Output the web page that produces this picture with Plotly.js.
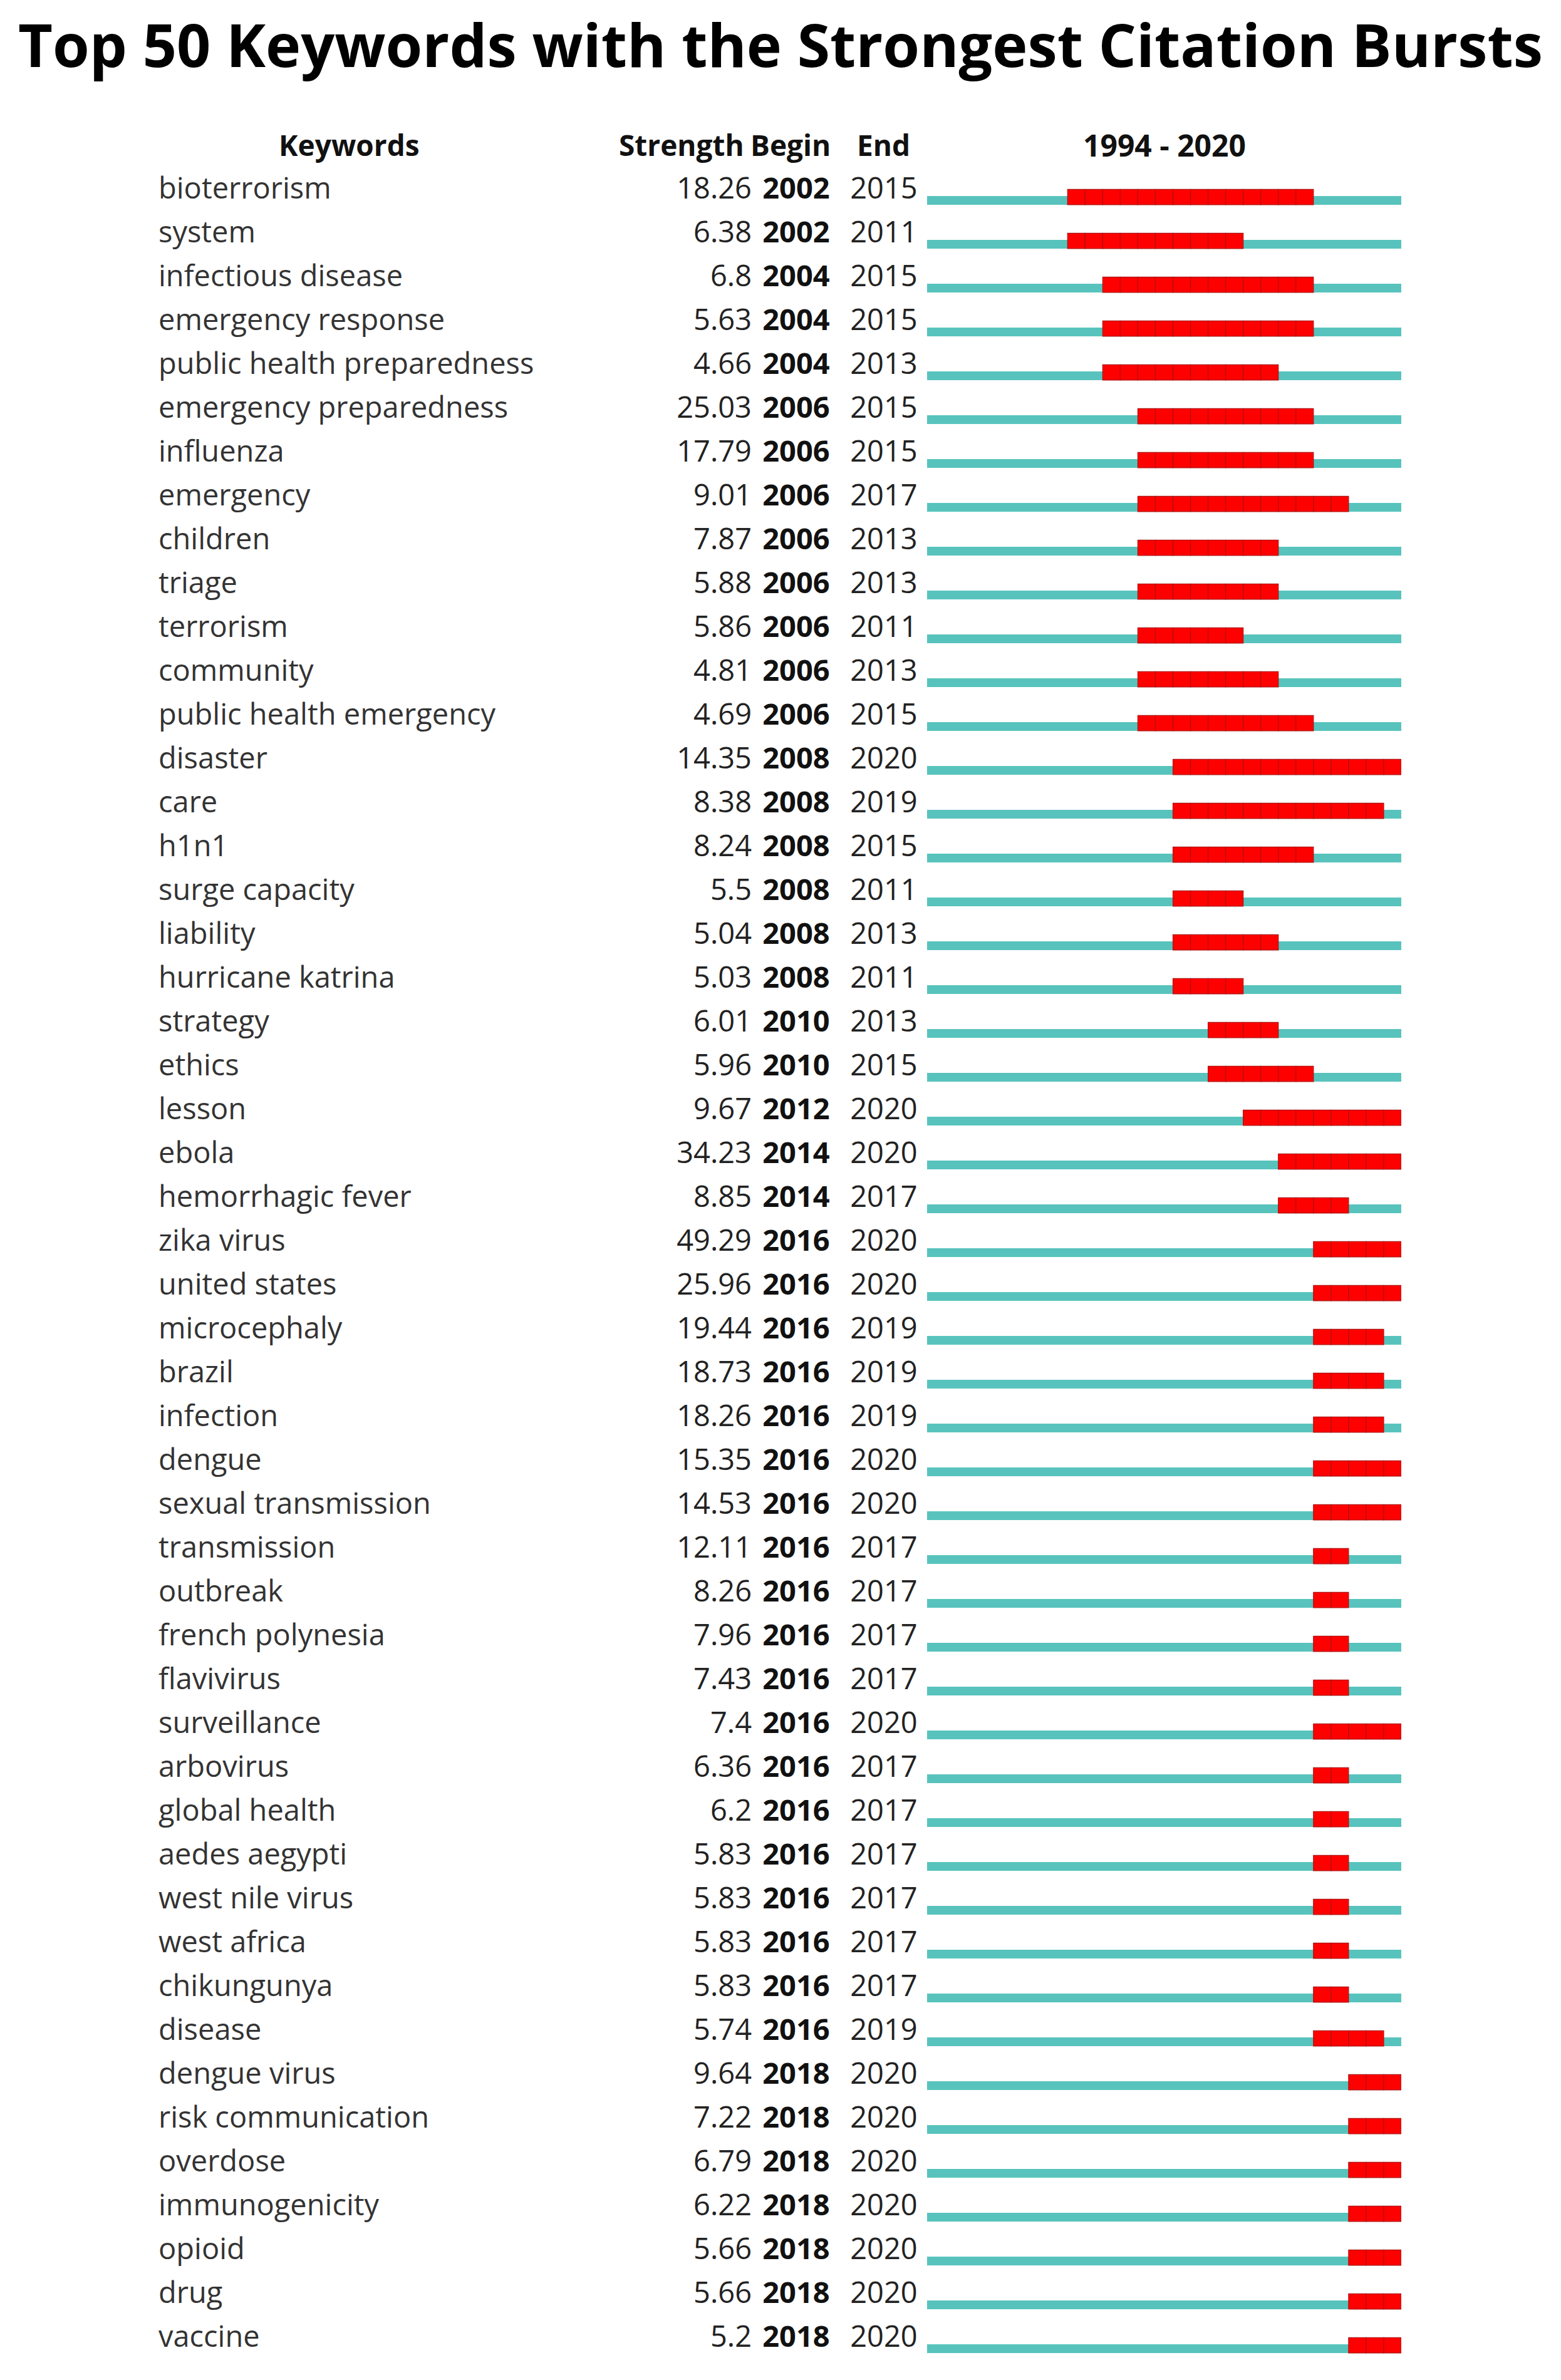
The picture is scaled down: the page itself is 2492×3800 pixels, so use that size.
<!DOCTYPE html>
<html>
<head>
<meta charset="utf-8">
<script src="https://cdn.plot.ly/plotly-3.0.1.min.js"></script>
<style>html,body{margin:0;padding:0;background:#fff;}#chart{width:2492px;height:3800px;}</style>
</head>
<body>
<div id="chart"></div>
<script>
// ---------- data ----------
const keywords = ["bioterrorism","system","infectious disease","emergency response","public health preparedness",
"emergency preparedness","influenza","emergency","children","triage","terrorism","community","public health emergency",
"disaster","care","h1n1","surge capacity","liability","hurricane katrina","strategy","ethics","lesson","ebola",
"hemorrhagic fever","zika virus","united states","microcephaly","brazil","infection","dengue","sexual transmission",
"transmission","outbreak","french polynesia","flavivirus","surveillance","arbovirus","global health","aedes aegypti",
"west nile virus","west africa","chikungunya","disease","dengue virus","risk communication","overdose","immunogenicity",
"opioid","drug","vaccine"];
const strength = ["18.26","6.38","6.8","5.63","4.66","25.03","17.79","9.01","7.87","5.88","5.86","4.81","4.69",
"14.35","8.38","8.24","5.5","5.04","5.03","6.01","5.96","9.67","34.23","8.85","49.29","25.96","19.44","18.73",
"18.26","15.35","14.53","12.11","8.26","7.96","7.43","7.4","6.36","6.2","5.83","5.83","5.83","5.83","5.74",
"9.64","7.22","6.79","6.22","5.66","5.66","5.2"];
const beginYear = [2002,2002,2004,2004,2004,2006,2006,2006,2006,2006,2006,2006,2006,2008,2008,2008,2008,2008,2008,
2010,2010,2012,2014,2014,2016,2016,2016,2016,2016,2016,2016,2016,2016,2016,2016,2016,2016,2016,2016,2016,2016,2016,2016,
2018,2018,2018,2018,2018,2018,2018];
const endYear = [2015,2011,2015,2015,2013,2015,2015,2017,2013,2013,2011,2013,2015,2020,2019,2015,2011,2013,2011,
2013,2015,2020,2020,2017,2020,2020,2019,2019,2019,2020,2020,2017,2017,2017,2017,2020,2017,2017,2017,2017,2017,2017,2019,
2020,2020,2020,2020,2020,2020,2020];
const firstYear = 1994, lastYear = 2020;
const headers = {keywords:"Keywords", strength:"Strength", begin:"Begin", end:"End"};
const titleText = "Top 50 Keywords with the Strongest Citation Bursts";

// ---------- build traces ----------
const W = 2492, H = 3800;
const rows = keywords.map((_, i) => i);
const teal = "#58C3BD", red = "#FF0000";
const FONT = "Open Sans, Noto Sans, sans-serif";

// timeline (whole period) per keyword
const timeline = {
  type: "bar", orientation: "h", xaxis: "x", yaxis: "y",
  y: rows, base: rows.map(() => firstYear), x: rows.map(() => lastYear - firstYear + 1),
  width: 0.2, offset: -0.03,
  marker: {color: teal, line: {width: 0}}, hoverinfo: "skip", showlegend: false
};
// burst segments: one cell per year
const by = [], bb = [], bx = [];
keywords.forEach((k, i) => {
  for (let yr = beginYear[i]; yr <= endYear[i]; yr++) { by.push(i); bb.push(yr); bx.push(1); }
});
const bursts = {
  type: "bar", orientation: "h", xaxis: "x", yaxis: "y",
  y: by, base: bb, x: bx, width: 0.35, offset: -0.18,
  marker: {color: red, line: {color: "#B01010", width: 1.2}}, hoverinfo: "skip", showlegend: false
};

const textY = rows.map(i => i - 0.14);
const fs = 47;
const kwTrace = {type:"scatter", mode:"text", xaxis:"x2", yaxis:"y", x: rows.map(()=>253), y:textY,
  text: keywords, textposition:"middle right", textfont:{family:FONT, size:fs, color:"#333"}, hoverinfo:"skip", showlegend:false};
const stTrace = {type:"scatter", mode:"text", xaxis:"x2", yaxis:"y", x: rows.map(()=>1200), y:textY,
  text: strength, textposition:"middle left", textfont:{family:FONT, size:fs, color:"#222"}, hoverinfo:"skip", showlegend:false};
const bgTrace = {type:"scatter", mode:"text", xaxis:"x2", yaxis:"y", x: rows.map(()=>1271), y:textY,
  text: beginYear.map(String), textposition:"middle center", textfont:{family:FONT, size:fs, color:"#111", weight:"bold"}, hoverinfo:"skip", showlegend:false};
const enTrace = {type:"scatter", mode:"text", xaxis:"x2", yaxis:"y", x: rows.map(()=>1411), y:textY,
  text: endYear.map(String), textposition:"middle center", textfont:{family:FONT, size:fs, color:"#222"}, hoverinfo:"skip", showlegend:false};

const hdrY = -1.2;
const hfont = {family:FONT, size:46, color:"#111", weight:"bold"};
const annotations = [
  {xref:"x2", yref:"y", x:557, y:hdrY, text:headers.keywords, showarrow:false, font:hfont, xanchor:"center", yanchor:"middle"},
  {xref:"x2", yref:"y", x:1088, y:hdrY, text:headers.strength, showarrow:false, font:hfont, xanchor:"center", yanchor:"middle"},
  {xref:"x2", yref:"y", x:1262, y:hdrY, text:headers.begin, showarrow:false, font:hfont, xanchor:"center", yanchor:"middle"},
  {xref:"x2", yref:"y", x:1410, y:hdrY, text:headers.end, showarrow:false, font:hfont, xanchor:"center", yanchor:"middle"},
  {xref:"x", yref:"y", x:(firstYear + lastYear + 1)/2, y:hdrY, text:firstYear + " - " + lastYear, showarrow:false,
   font:{family:FONT, size:48, color:"#111", weight:"bold"}, xanchor:"center", yanchor:"middle"}
];

const layout = {
  width: W, height: H,
  margin: {l:0, r:0, t:0, b:0, pad:0},
  paper_bgcolor: "#fff", plot_bgcolor: "rgba(0,0,0,0)",
  barmode: "overlay",
  title: {text: titleText, x:0.5, xanchor:"center", y: 1 - 74/H, yanchor:"middle",
          font:{family:FONT, size:95, color:"#000", weight:"bold"}},
  xaxis: {domain:[1480/W, 2237/W], range:[firstYear, lastYear + 1], visible:false, fixedrange:true},
  xaxis2: {domain:[0, 1470/W], range:[0, 1470], visible:false, anchor:"y", fixedrange:true},
  yaxis: {domain:[0,1], range:[(H - 315)/70, -315/70], visible:false, fixedrange:true},
  annotations: annotations,
  showlegend: false
};

Plotly.newPlot("chart", [timeline, bursts, kwTrace, stTrace, bgTrace, enTrace], layout, {staticPlot:true});
</script>
</body>
</html>
